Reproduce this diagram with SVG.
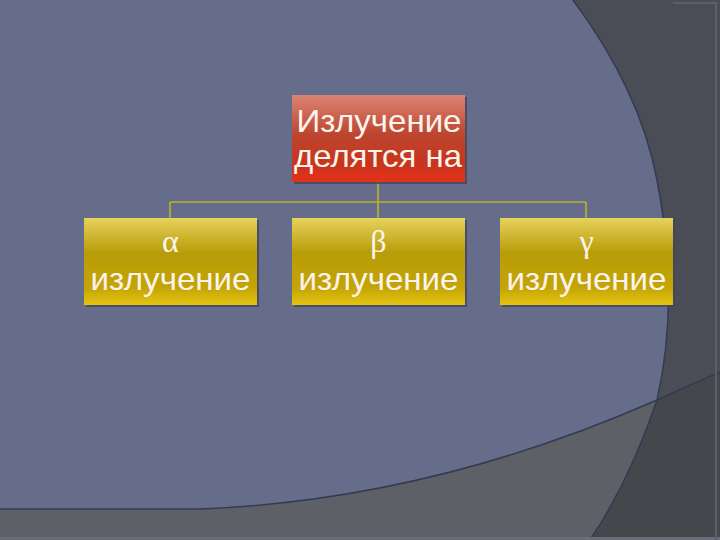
<svg xmlns="http://www.w3.org/2000/svg" width="720" height="540" viewBox="0 0 720 540">
<defs>
<linearGradient id="red" x1="0" y1="0" x2="0" y2="1">
<stop offset="0" stop-color="#dc8474"/>
<stop offset="0.45" stop-color="#bc4630"/>
<stop offset="0.8" stop-color="#c8341c"/>
<stop offset="1" stop-color="#e8301a"/>
</linearGradient>
<linearGradient id="gold" x1="0" y1="0" x2="0" y2="1">
<stop offset="0" stop-color="#e6d25e"/>
<stop offset="0.4" stop-color="#b89c08"/>
<stop offset="0.8" stop-color="#c4a406"/>
<stop offset="1" stop-color="#e4c412"/>
</linearGradient>
<style>
.shadow{fill:#40465c;opacity:0.8}
.conn{stroke:#b8b428;stroke-width:1.6;fill:none}
.txt{font-family:"Liberation Sans",Arial,sans-serif;font-size:32px;fill:#fbf4ec;text-anchor:middle}
.greek{font-family:"Liberation Serif","Times New Roman",serif;font-size:32px;fill:#fbf4ec;text-anchor:middle}
.edge{stroke:#353a52;stroke-width:1.5;fill:none}
</style>
</defs>
<g id="background">
<rect x="0" y="0" width="720" height="540" fill="#656d8a"/>
<path d="M573,0 Q640,90 657,180 Q680,300 657,400 Q630,480 590,540 L720,540 L720,0 Z" fill="#4a4c56"/>
<path d="M0,509 L200,509 Q430,500 657,400 L720,372 L720,540 L0,540 Z" fill="#5e6068"/>
<path d="M657,400 L720,372 L720,540 L590,540 Q630,480 657,400 Z" fill="#46474d"/>
<path class="edge" d="M573,0 Q640,90 657,180 Q680,300 657,400 Q630,480 590,540"/>
<path class="edge" d="M0,509 L200,509 Q430,500 657,400 L720,372"/>
<rect x="0" y="537" width="720" height="3" fill="#6a6d78"/>
<path d="M673,3 L716,3 L716,540" stroke="#5c5e68" stroke-width="2" fill="none"/>
</g>
<g id="connectors">
<path class="conn" d="M378,182 V202 M170,202 H586 M170,202 V218 M378,202 V218 M586,202 V218"/>
</g>
<g id="node-root">
<rect class="shadow" x="294" y="97" width="173" height="87"/>
<rect x="292" y="95" width="173" height="87" fill="url(#red)"/>
<text class="txt" x="379" y="132" textLength="165" lengthAdjust="spacingAndGlyphs">Излучение</text>
<text class="txt" x="378" y="167" textLength="168" lengthAdjust="spacingAndGlyphs">делятся на</text>
</g>
<g id="node-alpha">
<rect class="shadow" x="86" y="220" width="173" height="87"/>
<rect x="84" y="218" width="173" height="87" fill="url(#gold)"/>
<text class="greek" x="170.5" y="252">α</text>
<text class="txt" x="170.5" y="290" textLength="160" lengthAdjust="spacingAndGlyphs">излучение</text>
</g>
<g id="node-beta">
<rect class="shadow" x="294" y="220" width="173" height="87"/>
<rect x="292" y="218" width="173" height="87" fill="url(#gold)"/>
<text class="greek" x="378.5" y="252">β</text>
<text class="txt" x="378.5" y="290" textLength="160" lengthAdjust="spacingAndGlyphs">излучение</text>
</g>
<g id="node-gamma">
<rect class="shadow" x="502" y="220" width="173" height="87"/>
<rect x="500" y="218" width="173" height="87" fill="url(#gold)"/>
<text class="greek" x="586.5" y="252">γ</text>
<text class="txt" x="586.5" y="290" textLength="160" lengthAdjust="spacingAndGlyphs">излучение</text>
</g>
</svg>
